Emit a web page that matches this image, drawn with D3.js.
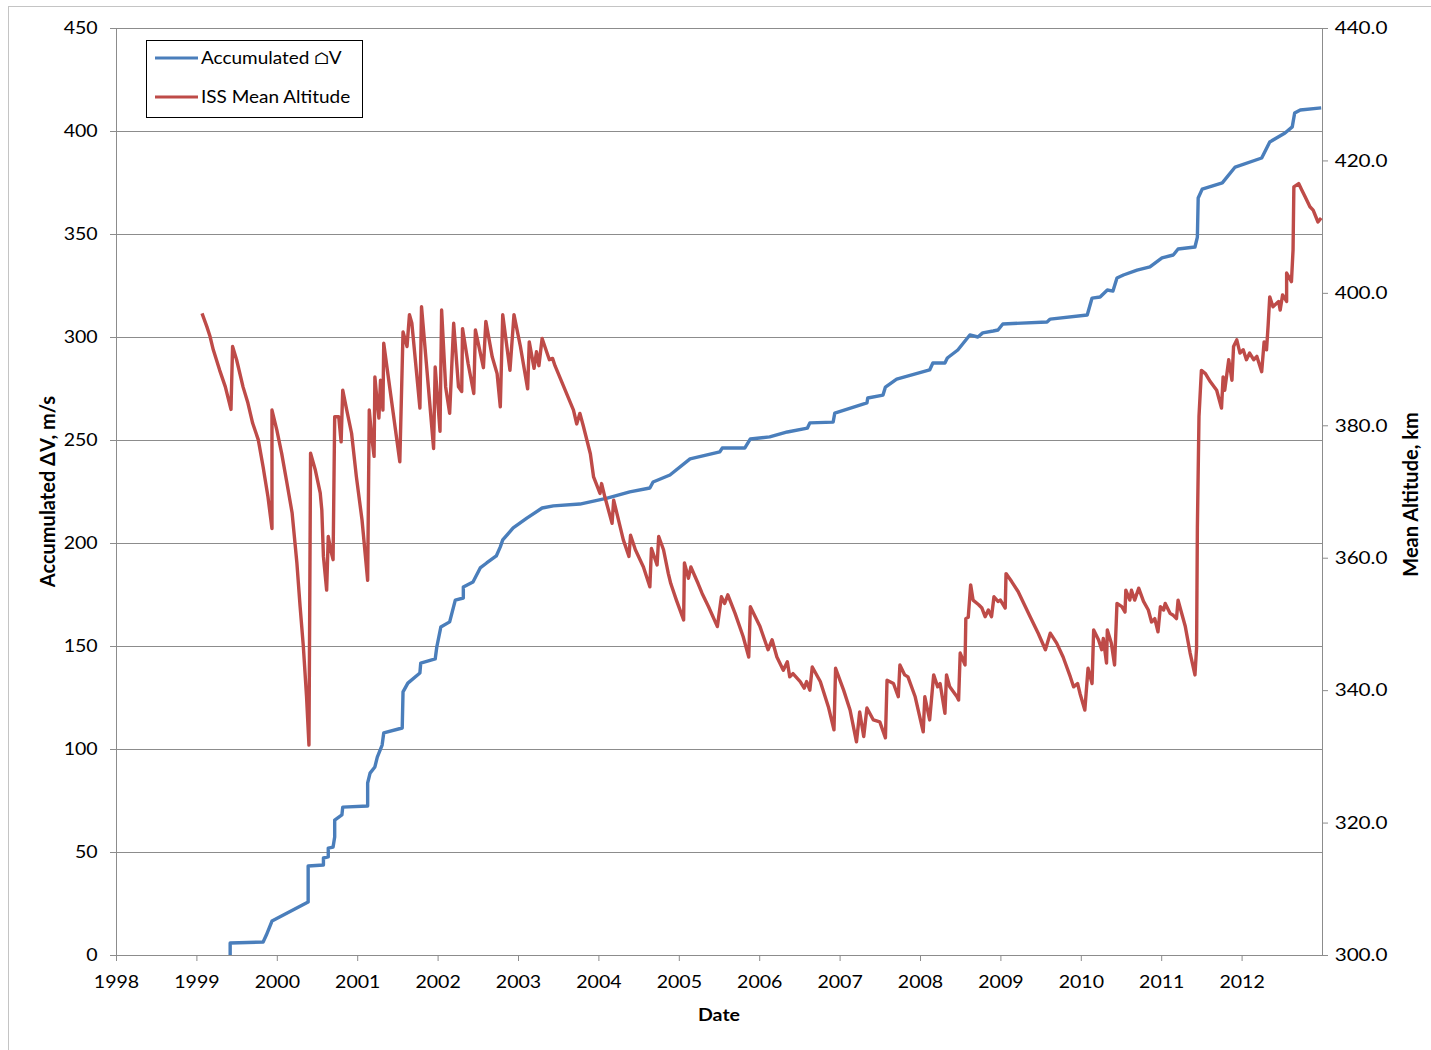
<!DOCTYPE html>
<html>
<head>
<meta charset="utf-8">
<script src="https://cdn.jsdelivr.net/npm/d3@7"></script>
<style>
  body { margin: 0; background: #fff; }
  text { font-family: Lato, "Open Sans", sans-serif; fill: #000; }
</style>
</head>
<body>
<svg id="chart" width="1431" height="1050"></svg>
<script>
//--tick labels--
var yearTicks = [1998, 1999, 2000, 2001, 2002, 2003, 2004, 2005, 2006, 2007, 2008, 2009, 2010, 2011, 2012];
var dvTicks = [0, 50, 100, 150, 200, 250, 300, 350, 400, 450];
var altTicks = [300, 320, 340, 360, 380, 400, 420, 440];

//--accumulated delta-V (m/s)--
var dvYear = [1999.42,1999.42,1999.83,1999.87,1999.94,2000.39,2000.39,2000.58,2000.58,2000.64,
  2000.64,2000.70,2000.72,2000.72,2000.81,2000.82,2001.13,2001.13,2001.16,2001.22,
  2001.25,2001.31,2001.33,2001.56,2001.57,2001.63,2001.78,2001.79,2001.97,2001.99,
  2002.04,2002.15,2002.22,2002.32,2002.32,2002.44,2002.53,2002.61,2002.73,2002.78,
  2002.81,2002.94,2003.11,2003.30,2003.44,2003.77,2004.11,2004.39,2004.64,2004.68,
  2004.89,2005.14,2005.51,2005.54,2005.82,2005.89,2006.13,2006.35,2006.60,2006.63,
  2006.92,2006.94,2007.34,2007.35,2007.54,2007.57,2007.71,2008.12,2008.16,2008.31,
  2008.34,2008.47,2008.62,2008.72,2008.78,2008.91,2008.97,2009.03,2009.58,2009.62,
  2010.08,2010.14,2010.24,2010.33,2010.40,2010.45,2010.53,2010.70,2010.86,2011.01,
  2011.15,2011.21,2011.42,2011.45,2011.46,2011.51,2011.76,2011.92,2012.25,2012.35,
  2012.54,2012.63,2012.66,2012.73,2012.99];
var dvValue = [0,5.8,6.3,9.7,16.5,25.7,43.2,43.7,47.1,47.6,
  51.9,52.4,57.3,65.5,68.0,71.8,72.3,83.5,88.3,91.3,
  96.1,101.9,107.8,110.2,127.7,132.0,136.9,141.7,143.7,149.5,
  159.2,161.7,172.3,173.3,178.6,181.1,187.9,190.3,193.7,198.1,
  201.5,207.3,212.1,217.0,218.0,218.9,221.8,224.8,226.7,229.6,
  233.0,240.8,244.2,246.1,246.1,250.5,251.5,253.9,255.8,258.3,
  258.7,263.1,268.0,270.4,271.8,275.7,279.6,284.0,287.4,287.4,
  289.8,293.7,301.0,300.0,302.0,302.9,303.4,306.3,307.3,308.7,
  310.7,318.9,319.4,322.8,322.3,328.6,330.1,332.5,334.0,338.4,
  339.8,342.7,343.7,348.5,367.5,371.8,374.8,382.5,386.9,394.7,
  399.0,402.0,408.7,410.2,411.2];

//--ISS mean altitude (km)--
var altYear = [1999.07,1999.13,1999.17,1999.21,1999.29,1999.36,1999.43,1999.45,1999.50,1999.58,
  1999.64,1999.70,1999.77,1999.83,1999.85,1999.89,1999.94,1999.94,2000.00,2000.06,
  2000.12,2000.19,2000.25,2000.29,2000.33,2000.37,2000.40,2000.42,2000.48,2000.54,
  2000.56,2000.58,2000.62,2000.64,2000.67,2000.70,2000.72,2000.77,2000.80,2000.82,
  2000.87,2000.93,2000.99,2001.06,2001.13,2001.15,2001.18,2001.21,2001.22,2001.25,
  2001.27,2001.29,2001.32,2001.33,2001.37,2001.53,2001.57,2001.62,2001.65,2001.68,
  2001.78,2001.80,2001.86,2001.95,2001.97,2002.03,2002.05,2002.10,2002.15,2002.20,
  2002.26,2002.30,2002.31,2002.38,2002.45,2002.47,2002.57,2002.60,2002.68,2002.74,
  2002.78,2002.81,2002.90,2002.95,2003.03,2003.12,2003.14,2003.20,2003.23,2003.26,
  2003.30,2003.39,2003.43,2003.46,2003.57,2003.69,2003.73,2003.77,2003.81,2003.90,
  2003.94,2004.02,2004.04,2004.08,2004.17,2004.19,2004.23,2004.31,2004.38,2004.40,
  2004.46,2004.56,2004.64,2004.66,2004.73,2004.75,2004.81,2004.87,2004.90,2004.97,
  2005.06,2005.07,2005.12,2005.15,2005.24,2005.29,2005.37,2005.48,2005.53,2005.57,
  2005.61,2005.70,2005.80,2005.87,2005.89,2006.01,2006.11,2006.16,2006.22,2006.30,
  2006.35,2006.38,2006.42,2006.51,2006.56,2006.59,2006.63,2006.66,2006.76,2006.86,
  2006.93,2006.95,2007.05,2007.13,2007.21,2007.25,2007.30,2007.34,2007.42,2007.50,
  2007.57,2007.59,2007.67,2007.73,2007.75,2007.81,2007.85,2007.94,2008.04,2008.06,
  2008.12,2008.17,2008.22,2008.25,2008.31,2008.33,2008.37,2008.46,2008.48,2008.50,
  2008.56,2008.57,2008.60,2008.63,2008.66,2008.73,2008.77,2008.81,2008.85,2008.89,
  2008.92,2008.97,2009.00,2009.06,2009.07,2009.14,2009.22,2009.37,2009.47,2009.56,
  2009.62,2009.70,2009.78,2009.87,2009.91,2009.96,2009.99,2010.05,2010.09,2010.14,
  2010.16,2010.22,2010.26,2010.28,2010.32,2010.33,2010.38,2010.42,2010.45,2010.51,
  2010.55,2010.56,2010.61,2010.63,2010.67,2010.72,2010.78,2010.84,2010.88,2010.92,
  2010.96,2010.99,2011.03,2011.05,2011.11,2011.15,2011.19,2011.21,2011.25,2011.30,
  2011.36,2011.42,2011.44,2011.45,2011.47,2011.50,2011.55,2011.61,2011.69,2011.75,
  2011.77,2011.79,2011.84,2011.88,2011.90,2011.94,2011.98,2012.02,2012.06,2012.10,
  2012.15,2012.19,2012.25,2012.28,2012.31,2012.33,2012.35,2012.39,2012.46,2012.48,
  2012.51,2012.56,2012.56,2012.62,2012.64,2012.65,2012.71,2012.75,2012.79,2012.85,
  2012.89,2012.95,2012.99];
var altValue = [396.9,394.9,393.4,391.4,388.3,385.8,382.4,391.9,389.9,385.8,
  383.4,380.3,377.8,373.7,372.2,369.2,364.4,382.3,379.3,375.8,
  371.7,366.8,359.2,352.6,346.6,339.0,331.7,375.8,373.2,369.8,
  367.2,360.2,355.1,363.2,361.2,359.7,381.3,381.3,377.5,385.3,
  382.3,378.8,372.2,365.7,356.6,382.3,378.3,375.3,387.3,383.3,
  381.1,386.8,382.3,392.4,388.8,374.5,394.1,391.9,396.7,395.4,
  382.6,397.9,389.4,376.5,388.8,379.1,397.4,385.8,381.8,395.4,
  385.8,385.1,394.6,389.3,384.8,394.4,388.7,395.7,390.3,387.8,
  382.8,396.7,388.3,396.7,391.9,385.5,392.6,388.6,391.1,389.0,
  393.1,389.9,390.1,389.0,385.8,382.3,380.2,381.8,380.0,375.7,
  372.2,369.7,371.2,369.2,365.2,368.7,366.7,362.7,360.2,363.4,
  361.2,358.6,355.6,361.4,358.9,363.2,361.2,357.6,356.1,353.6,
  350.6,359.2,356.9,358.6,356.1,354.6,352.6,349.6,354.1,353.1,
  354.4,351.6,348.1,345.0,352.6,349.6,346.1,347.6,345.0,343.0,
  344.3,342.0,342.5,341.3,340.3,341.3,340.0,343.5,341.3,337.5,
  334.0,343.3,340.0,337.0,332.2,336.7,333.0,337.3,335.5,335.2,
  332.8,341.5,341.0,339.0,343.8,342.3,342.0,339.0,333.7,339.0,
  335.5,342.3,340.5,341.0,336.5,342.3,340.5,339.0,338.5,345.6,
  343.8,350.8,351.0,355.9,353.6,352.9,352.4,351.1,352.1,351.1,
  354.1,353.4,353.6,352.4,357.6,356.4,354.9,351.1,348.6,346.1,
  348.6,347.1,345.0,342.0,340.5,341.0,339.5,337.0,343.3,341.0,
  349.1,347.6,346.1,347.8,344.1,349.1,347.1,343.8,353.1,352.6,
  351.8,355.1,353.6,355.1,353.6,355.4,353.4,352.1,350.3,350.8,
  348.8,352.6,352.1,353.1,351.6,351.3,350.8,353.6,351.8,349.6,
  345.6,342.3,346.4,364.6,381.3,388.3,387.8,386.6,385.3,382.6,
  387.3,385.3,389.9,386.8,391.9,392.9,390.9,391.4,389.9,390.9,
  389.9,390.4,388.1,392.6,391.4,395.1,399.4,397.9,398.7,397.4,
  399.7,398.7,403.0,401.7,406.5,416.0,416.5,415.5,414.5,413.0,
  412.5,410.7,411.3];

var seriesNames = ["Accumulated \u2302V", "ISS Mean Altitude"];
var seriesColors = ["#4a7ebb", "#be4b48"];

//--layout--
var plotLeft = 116, plotRight = 1322, plotTop = 28, plotBottom = 955;
var stretch = "scale(1.15,1)";
var gridColor = "#8c8c8c";

var svg = d3.select("#chart");

//外框
svg.append("rect")
  .attr("x", 8.5).attr("y", 6.5)
  .attr("width", 1440).attr("height", 1060)
  .attr("fill", "#fff").attr("stroke", "#c4c4c4");

//--scales--
var x = d3.scaleLinear().domain([1998, 2013]).range([plotLeft, plotRight]);
var yL = d3.scaleLinear().domain([0, 450]).range([plotBottom, plotTop]);
var yR = d3.scaleLinear().domain([300, 440]).range([plotBottom, plotTop]);

//--gridlines--
svg.append("g").selectAll("line")
  .data(dvTicks.slice(1))
  .join("line")
  .attr("x1", plotLeft).attr("x2", plotRight)
  .attr("y1", d => Math.round(yL(d)) + 0.5)
  .attr("y2", d => Math.round(yL(d)) + 0.5)
  .attr("stroke", gridColor).attr("stroke-width", 1);

//--axes--
function styleAxis(g, size) {
  g.select(".domain").attr("stroke", gridColor);
  g.selectAll(".tick line").attr("stroke", gridColor);
  g.selectAll(".tick text")
    .attr("transform", stretch)
    .style("font-size", size + "px")
    .attr("fill", "#000");
}

svg.append("g")
  .attr("transform", "translate(" + plotLeft + ",0)")
  .call(d3.axisLeft(yL).tickValues(dvTicks).tickSize(6).tickSizeOuter(0).tickPadding(10))
  .call(styleAxis, 17);

svg.append("g")
  .attr("transform", "translate(" + plotRight + ",0)")
  .call(d3.axisRight(yR).tickValues(altTicks).tickSize(6).tickSizeOuter(0).tickPadding(5)
    .tickFormat(d3.format(".1f")))
  .call(styleAxis, 18);

svg.append("g")
  .attr("transform", "translate(0," + plotBottom + ")")
  .call(d3.axisBottom(x).tickValues(yearTicks).tickSize(6).tickSizeOuter(0).tickPadding(15)
    .tickFormat(d3.format("d")))
  .call(styleAxis, 17);

//--lines--
var dvData = d3.zip(dvYear, dvValue);
var altData = d3.zip(altYear, altValue);

svg.append("path")
  .datum(dvData)
  .attr("fill", "none")
  .attr("stroke", seriesColors[0])
  .attr("stroke-width", 3.4)
  .attr("stroke-linejoin", "round")
  .attr("d", d3.line().x(d => x(d[0])).y(d => yL(d[1])));

svg.append("path")
  .datum(altData)
  .attr("fill", "none")
  .attr("stroke", seriesColors[1])
  .attr("stroke-width", 3.4)
  .attr("stroke-linejoin", "round")
  .attr("d", d3.line().x(d => x(d[0])).y(d => yR(d[1])));

//--axis titles--
svg.append("text")
  .attr("transform", "translate(719,1015) " + stretch)
  .attr("text-anchor", "middle").attr("dy", "0.35em")
  .style("font-size", "17px").style("font-weight", "bold")
  .text("Date");

svg.append("text")
  .attr("transform", "translate(48," + (plotTop + plotBottom) / 2 + ") rotate(-90)")
  .attr("text-anchor", "middle").attr("dy", "0.35em")
  .style("font-size", "20px").style("font-weight", "bold")
  .text("Accumulated \u0394V, m/s");

svg.append("text")
  .attr("transform", "translate(1411," + (plotTop + plotBottom + 6) / 2 + ") rotate(-90)")
  .attr("text-anchor", "middle").attr("dy", "0.35em")
  .style("font-size", "20px").style("font-weight", "bold")
  .text("Mean Altitude, km");

//--legend--
var legend = svg.append("g");
legend.append("rect")
  .attr("x", 146.5).attr("y", 40.5)
  .attr("width", 216).attr("height", 77)
  .attr("fill", "#fff").attr("stroke", "#000");

var items = legend.selectAll("g.item")
  .data(seriesNames)
  .join("g")
  .attr("class", "item")
  .attr("transform", (d, i) => "translate(0," + (58 + i * 39) + ")");

items.append("line")
  .attr("x1", 155).attr("x2", 198)
  .attr("stroke", (d, i) => seriesColors[i])
  .attr("stroke-width", 3);

items.append("text")
  .attr("transform", "translate(201,0) " + stretch)
  .attr("dy", "0.35em")
  .style("font-size", "16.5px")
  .text(d => d);
</script>
</body>
</html>
